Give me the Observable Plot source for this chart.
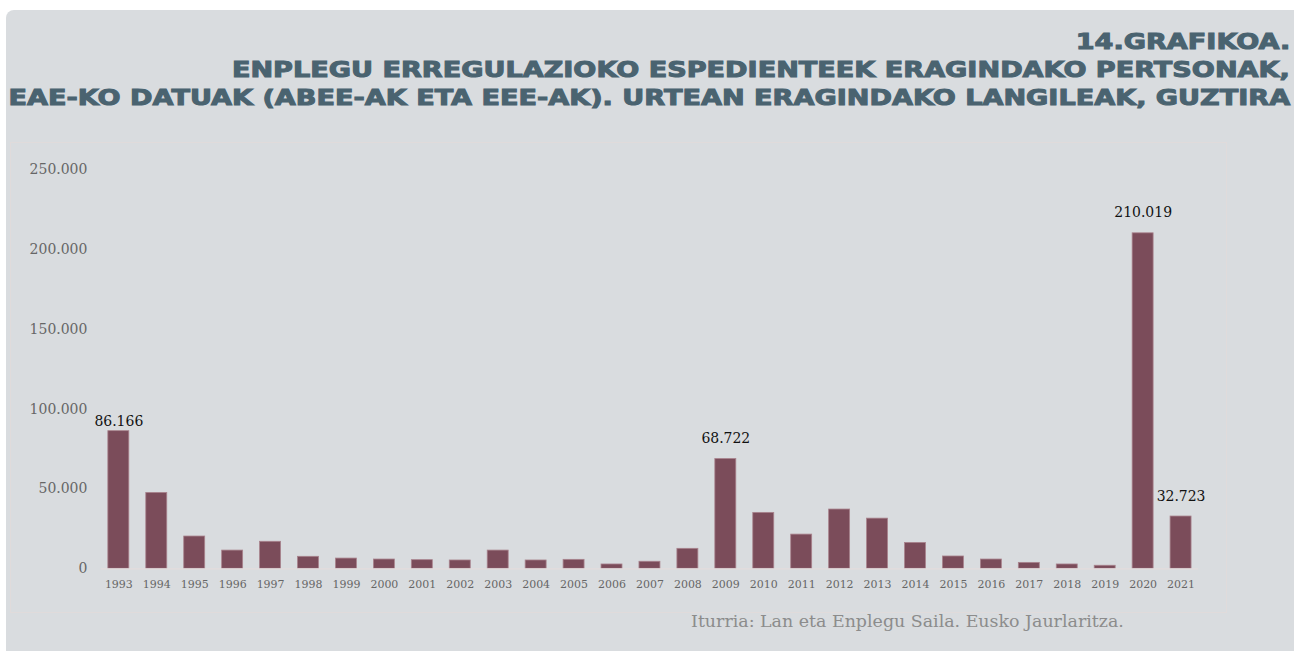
<!DOCTYPE html>
<html>
<head>
<meta charset="utf-8">
<script src="https://cdn.jsdelivr.net/npm/d3@7"></script>
<script src="https://cdn.jsdelivr.net/npm/@observablehq/plot@0.6"></script>
<style>
  html, body { margin: 0; padding: 0; background: #ffffff; }
  #panel { position: absolute; left: 6px; top: 10px; width: 1288px; height: 641px;
           background: #d9dcdf; border-top-left-radius: 8px; overflow: hidden; }
  #title { position: absolute; right: 4px; top: 18px; }
  .tl { font-family: "DejaVu Sans", sans-serif; font-weight: bold; font-size: 21px;
        line-height: 28px; color: #4a6370; text-align: right; white-space: nowrap;
        -webkit-text-stroke: 1px #4a6370; }
  .tl span { display: inline-block; transform-origin: right center; }
  #chart { position: absolute; left: 4px; top: 132px; }
  #chart svg { display: block; border: 1px solid #e0dbdb; box-sizing: border-box; }
  #caption { position: absolute; left: 685px; top: 601px; font-family: "DejaVu Serif", serif;
             font-size: 17px; color: #8c8c8c; white-space: nowrap; }
</style>
</head>
<body>
<div id="panel">
  <div id="title">
    <div class="tl"><span>14.GRAFIKOA.</span></div>
    <div class="tl"><span>ENPLEGU ERREGULAZIOKO ESPEDIENTEEK ERAGINDAKO PERTSONAK,</span></div>
    <div class="tl"><span>EAE-KO DATUAK (ABEE-AK ETA EEE-AK). URTEAN ERAGINDAKO LANGILEAK, GUZTIRA</span></div>
  </div>
  <div id="chart"></div>
  <div id="caption">Iturria: Lan eta Enplegu Saila. Eusko Jaurlaritza.</div>
</div>
<script>
const years = ["1993","1994","1995","1996","1997","1998","1999","2000","2001","2002",
  "2003","2004","2005","2006","2007","2008","2009","2010","2011","2012",
  "2013","2014","2015","2016","2017","2018","2019","2020","2021"];
const persons = [86166, 47500, 20200, 11400, 16900, 7500, 6400, 5800, 5400, 5200,
  11400, 5200, 5600, 2700, 4400, 12500, 68722, 35000, 21400, 37100,
  31400, 16200, 7700, 5800, 3700, 2700, 1900, 210019, 32723];
const labelledYears = ["1993", "2009", "2020", "2021"];
const yTicks = [0, 50000, 100000, 150000, 200000, 250000];

const data = years.map((y, i) => ({year: y, value: persons[i]}));
const fmt = d3.formatLocale({decimal: ",", thousands: ".", grouping: [3], currency: ["", "€"]}).format(",");

// uniform horizontal stretch of the title to mimic the extended display face
const spans = document.querySelectorAll(".tl span");
const ref = spans[1].getBoundingClientRect().width;
const k = 1058 / ref;
spans.forEach(s => s.style.transform = `scaleX(${k})`);

// fit the caption to the reference width
const cap = document.getElementById("caption");
const cw = cap.getBoundingClientRect().width;
cap.style.fontSize = (17 * 433 / cw) + "px";

const chart = Plot.plot({
  width: 1217,
  height: 470,
  marginTop: 26,
  marginBottom: 44,
  marginLeft: 90,
  marginRight: 28,
  style: {background: "transparent", fontFamily: "DejaVu Serif, serif", overflow: "visible"},
  x: {domain: years, paddingInner: 0.45, paddingOuter: 0.185, label: null},
  y: {domain: [0, 250000], label: null},
  marks: [
    Plot.barY(data, {x: "year", y: "value", fill: "#7b4c5a", stroke: "#a9838d", strokeWidth: 0.8}),
    Plot.ruleY([0], {stroke: "#e3dcdc", strokeWidth: 1.2}),
    Plot.text(data.filter(d => d.year === "1993"), {x: "year", y: "value", text: d => fmt(d.value),
      lineAnchor: "bottom", dy: -5, fontSize: 14, fill: "#111"}),
    Plot.text(data.filter(d => labelledYears.includes(d.year) && d.year !== "1993"), {x: "year", y: "value",
      text: d => fmt(d.value), lineAnchor: "bottom", dy: -16, fontSize: 14, fill: "#111"}),
    Plot.axisX({tickSize: 0, tickPadding: 11, fontSize: 11, fill: "#666", label: null}),
    Plot.axisY({ticks: yTicks, tickFormat: fmt, tickSize: 0, tickPadding: 14, fontSize: 14, fill: "#666", label: null})
  ]
});
document.getElementById("chart").append(chart);
</script>
</body>
</html>
